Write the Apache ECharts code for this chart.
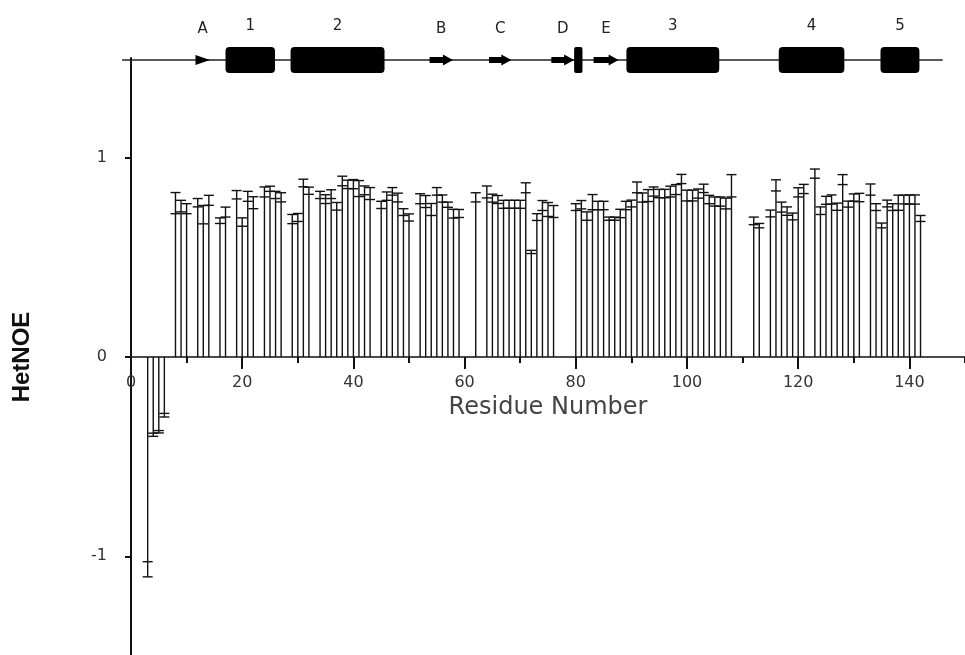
<!DOCTYPE html>
<html>
<head>
	<meta charset="utf-8">
	<title>HetNOE</title>
	<style>
		html, body { margin: 0; padding: 0; background: #fff; }
		#chart1 { width: 965px; height: 655px; }
	</style>
</head>
<body>
	<div id="chart1"></div>

	<script src="https://cdn.jsdelivr.net/npm/echarts@6/dist/echarts.min.js"></script>
	<script type="text/javascript">

    // residue numbers with a measured HetNOE
    var residues = [3, 4, 5, 6,
        8, 9, 10, 12, 13, 14, 16, 17, 19, 20, 21, 22, 24, 25, 26, 27, 29, 30, 31, 32,
        34, 35, 36, 37, 38, 39, 40, 41, 42, 43, 45, 46, 47, 48, 49, 50,
        52, 53, 54, 55, 56, 57, 58, 59, 62, 64, 65, 66, 67, 68, 69, 70, 71, 72, 73, 74, 75, 76,
        80, 81, 82, 83, 84, 85, 86, 87, 88, 89, 90, 91, 92, 93, 94, 95, 96, 97, 98, 99,
        100, 101, 102, 103, 104, 105, 106, 107, 108,
        112, 113, 115, 116, 117, 118, 119, 120, 121, 123, 124, 125, 126, 127, 128, 129, 130, 131,
        133, 134, 135, 136, 137, 138, 139, 140, 141, 142];

    var hetnoe = [-1.065, -0.39, -0.375, -0.292,
        0.772, 0.757, 0.744, 0.774, 0.714, 0.786, 0.684, 0.727, 0.814, 0.677, 0.806, 0.774, 0.828, 0.844, 0.813, 0.801, 0.692, 0.700, 0.873, 0.834,
        0.813, 0.792, 0.817, 0.756, 0.883, 0.866, 0.867, 0.845, 0.836, 0.820, 0.763, 0.807, 0.831, 0.800, 0.727, 0.700,
        0.794, 0.780, 0.740, 0.831, 0.795, 0.764, 0.719, 0.720, 0.801, 0.828, 0.797, 0.790, 0.766, 0.766, 0.766, 0.766, 0.849, 0.527, 0.702, 0.760, 0.740, 0.730,
        0.752, 0.764, 0.707, 0.777, 0.760, 0.760, 0.694, 0.694, 0.720, 0.760, 0.770, 0.851, 0.800, 0.810, 0.830, 0.820, 0.820, 0.830, 0.840, 0.893,
        0.810, 0.810, 0.820, 0.846, 0.790, 0.780, 0.780, 0.770, 0.859,
        0.683, 0.659, 0.720, 0.861, 0.752, 0.732, 0.705, 0.826, 0.843, 0.920, 0.734, 0.786, 0.790, 0.754, 0.890, 0.767, 0.800, 0.800,
        0.840, 0.752, 0.660, 0.770, 0.752, 0.774, 0.790, 0.790, 0.790, 0.695];

    var hetnoeErr = [0.038, 0.008, 0.006, 0.009,
        0.053, 0.029, 0.025, 0.021, 0.046, 0.025, 0.014, 0.025, 0.021, 0.021, 0.025, 0.030, 0.025, 0.013, 0.018, 0.023, 0.023, 0.020, 0.019, 0.018,
        0.018, 0.022, 0.022, 0.019, 0.024, 0.021, 0.023, 0.040, 0.022, 0.030, 0.018, 0.021, 0.019, 0.022, 0.017, 0.018,
        0.025, 0.030, 0.030, 0.019, 0.018, 0.013, 0.022, 0.020, 0.023, 0.030, 0.020, 0.020, 0.020, 0.020, 0.020, 0.020, 0.025, 0.008, 0.017, 0.025, 0.035, 0.030,
        0.017, 0.021, 0.021, 0.038, 0.021, 0.021, 0.008, 0.008, 0.021, 0.021, 0.017, 0.027, 0.023, 0.030, 0.023, 0.021, 0.021, 0.027, 0.025, 0.023,
        0.027, 0.027, 0.023, 0.021, 0.021, 0.023, 0.023, 0.027, 0.056,
        0.019, 0.011, 0.017, 0.028, 0.025, 0.021, 0.017, 0.023, 0.023, 0.023, 0.019, 0.020, 0.023, 0.018, 0.025, 0.015, 0.018, 0.021,
        0.028, 0.017, 0.012, 0.017, 0.017, 0.038, 0.022, 0.023, 0.023, 0.015];

    var xLabels = [0, 20, 40, 60, 80, 100, 120, 140];
    var yLabels = [-1, 0, 1];

    // secondary structure drawn above the plot (residue ranges)
    var helixStart = [17.0, 28.7, 89.1, 116.5, 134.8];
    var helixEnd   = [25.9, 45.6, 105.8, 128.3, 141.8];
    var helixNames = ['1', '2', '3', '4', '5'];
    var strandStart = [11.6, 53.7, 64.4, 75.6, 83.2];
    var strandEnd   = [14.2, 57.9, 68.4, 79.7, 87.7];
    var strandNames = ['A', 'B', 'C', 'D', 'E'];
    var turnStart = [79.7];
    var turnEnd   = [81.2];
    var chainSpan = [-1.6, 146];
    var chainLevel = 1.49;

    var barData = [];
    for (var i = 0; i < residues.length; i++) {
        barData.push([residues[i], hetnoe[i], hetnoeErr[i]]);
    }

    var structure = [];
    for (var h = 0; h < helixStart.length; h++) {
        structure.push({kind: 'helix', start: helixStart[h], end: helixEnd[h], name: helixNames[h]});
    }
    for (var s = 0; s < strandStart.length; s++) {
        structure.push({kind: 'strand', start: strandStart[s], end: strandEnd[s], name: strandNames[s]});
    }
    for (var t = 0; t < turnStart.length; t++) {
        structure.push({kind: 'turn', start: turnStart[t], end: turnEnd[t], name: ''});
    }
    var structData = structure.map(function (d) { return [d.start, d.end]; });

    var INK = '#111';
    var labelFont = '15px "DejaVu Sans"';
    // grid is 598px tall for -1.5..1.5, so the zero line sits 299px above its bottom
    var zeroOffset = -299;

    function renderBar(params, api) {
        var r = api.value(0), v = api.value(1), e = api.value(2);
        var base = api.coord([r, 0]);
        var hi = api.coord([r, v + e]);
        var lo = api.coord([r, v - e]);
        var tip = v >= 0 ? hi : lo;
        var w = 5;
        var st = {stroke: INK, lineWidth: 1.4};
        return {
            type: 'group',
            children: [
                {type: 'line', shape: {x1: base[0], y1: base[1], x2: tip[0], y2: tip[1]}, style: st},
                {type: 'line', shape: {x1: hi[0] - w, y1: hi[1], x2: hi[0] + w, y2: hi[1]}, style: st},
                {type: 'line', shape: {x1: lo[0] - w, y1: lo[1], x2: lo[0] + w, y2: lo[1]}, style: st}
            ]
        };
    }

    function renderChain(params, api) {
        var a = api.coord([api.value(0), chainLevel]);
        var b = api.coord([api.value(1), chainLevel]);
        return {type: 'line', shape: {x1: a[0], y1: a[1], x2: b[0], y2: b[1]}, style: {stroke: '#222', lineWidth: 1.3}};
    }

    function renderStruct(params, api) {
        var d = structure[params.dataIndex];
        var a = api.coord([api.value(0), chainLevel]);
        var b = api.coord([api.value(1), chainLevel]);
        var x0 = a[0], x1 = b[0], y = a[1];
        var cx = (x0 + x1) / 2;
        var children = [];
        if (d.kind === 'helix') {
            children.push({type: 'rect', shape: {x: x0, y: y - 13, width: x1 - x0, height: 26, r: 4}, style: {fill: '#000'}});
            children.push({type: 'text', style: {text: d.name, x: cx, y: y - 34, align: 'center', verticalAlign: 'middle', font: labelFont, fill: '#222'}});
        } else if (d.kind === 'strand') {
            var len = x1 - x0;
            var head = len < 18 ? len : 10;
            var xm = x1 - head;
            var pts = len < 18
                ? [[x0, y - 5], [x1, y], [x0, y + 5]]
                : [[x0, y - 3], [xm, y - 3], [xm, y - 5.5], [x1, y], [xm, y + 5.5], [xm, y + 3], [x0, y + 3]];
            children.push({type: 'polygon', shape: {points: pts}, style: {fill: '#000'}});
            children.push({type: 'text', style: {text: d.name, x: cx, y: y - 31, align: 'center', verticalAlign: 'middle', font: labelFont, fill: '#222'}});
        } else {
            children.push({type: 'rect', shape: {x: x0, y: y - 13, width: x1 - x0, height: 26, r: 2}, style: {fill: '#000'}});
        }
        return {type: 'group', children: children};
    }

    var dom = document.getElementById('chart1');
    var myChart = echarts.init(dom);
    var option = {
        animation: false,
        backgroundColor: '#fff',
        grid: {left: 131, right: 0, top: 58, bottom: -1, containLabel: false, outerBoundsMode: 'none'},
        xAxis: [
            {
                type: 'value',
                min: 0,
                max: 150,
                interval: 10,
                position: 'bottom',
                offset: zeroOffset,
                name: 'Residue Number',
                nameLocation: 'middle',
                nameGap: 35,
                nameTextStyle: {fontFamily: 'DejaVu Sans', fontSize: 24, color: '#444'},
                axisLine: {onZero: false, lineStyle: {color: INK, width: 1.5}},
                axisTick: {length: 6, lineStyle: {color: INK, width: 2}},
                axisLabel: {customValues: xLabels, margin: 18, fontFamily: 'DejaVu Sans', fontSize: 16, color: '#333'},
                splitLine: {show: false}
            },
            {
                type: 'value',
                min: 0,
                max: 150,
                position: 'bottom',
                offset: zeroOffset,
                axisLine: {show: false, onZero: false},
                axisTick: {customValues: xLabels, length: 12, lineStyle: {color: INK, width: 2}},
                axisLabel: {show: false},
                splitLine: {show: false}
            }
        ],
        yAxis: {
            type: 'value',
            min: -1.5,
            max: 1.5,
            interval: 0.5,
            name: 'HetNOE',
            nameLocation: 'middle',
            nameRotate: 90,
            nameGap: 97,
            nameTextStyle: {fontFamily: 'Liberation Sans', fontSize: 24, fontWeight: 'bold', color: '#111'},
            axisLine: {onZero: false, lineStyle: {color: INK, width: 2}},
            axisTick: {customValues: yLabels, length: 6, lineStyle: {color: INK, width: 2}},
            axisLabel: {customValues: yLabels, margin: 24, fontFamily: 'DejaVu Sans', fontSize: 16, color: '#333'},
            splitLine: {show: false}
        },
        series: [
            {
                name: 'chain',
                type: 'custom',
                clip: false,
                renderItem: renderChain,
                data: [chainSpan],
                z: 1
            },
            {
                name: 'structure',
                type: 'custom',
                clip: false,
                renderItem: renderStruct,
                data: structData,
                z: 2
            },
            {
                name: 'HetNOE',
                type: 'custom',
                clip: false,
                renderItem: renderBar,
                data: barData,
                z: 3
            }
        ]
    };
    myChart.setOption(option, true);

	</script>
</body>
</html>
